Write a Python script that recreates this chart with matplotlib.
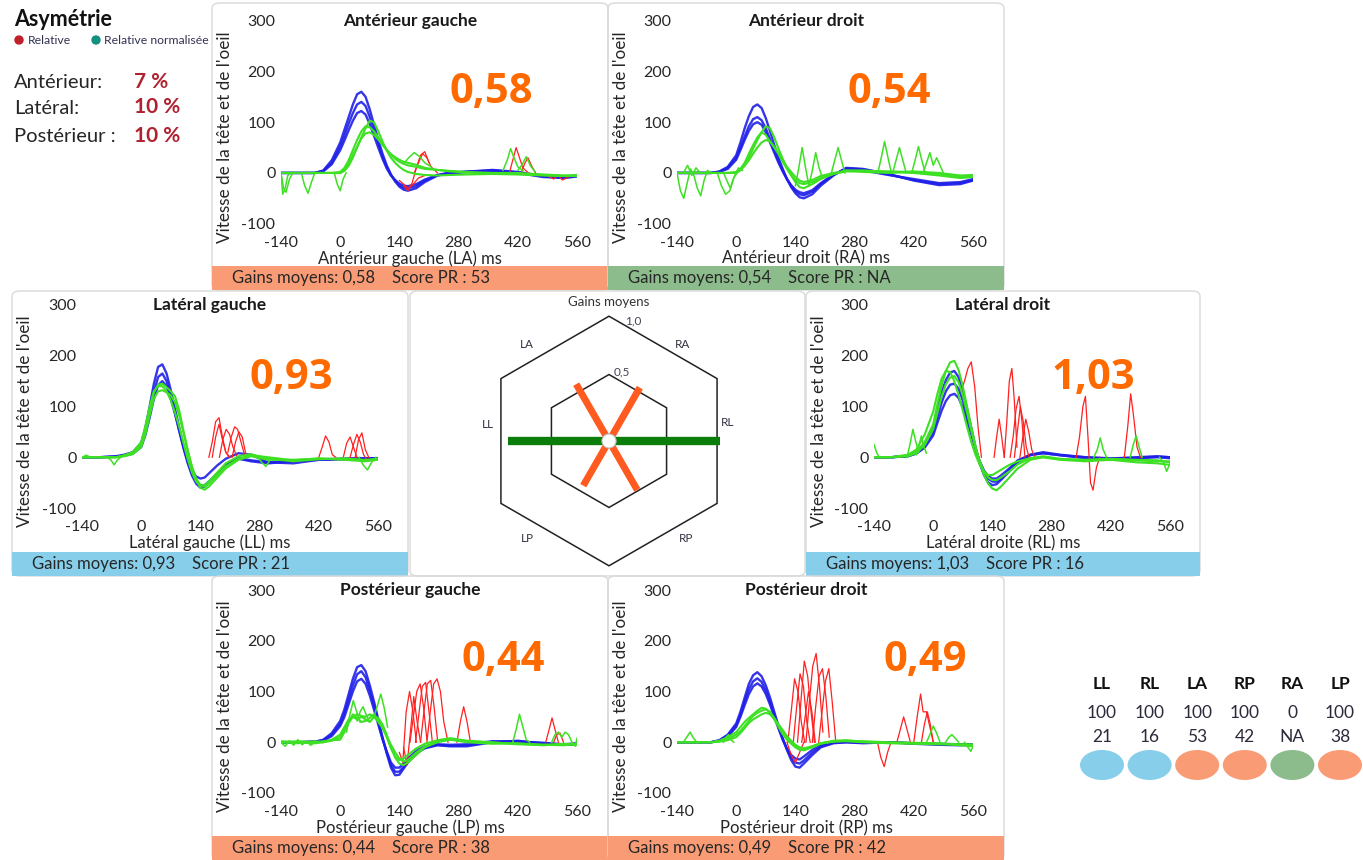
import matplotlib
matplotlib.use('Agg')
import numpy as np
import matplotlib.pyplot as plt
from matplotlib.patches import FancyBboxPatch, Rectangle, Ellipse, Polygon, Circle

# ---------------------------------------------------------------- data
# common time grid (ms) for the main head / eye traces
T_MS = [-140, -100, -60, -40, -20, 0, 10, 20, 30, 40, 50, 60, 70, 80, 90, 100,
        110, 120, 130, 140, 150, 160, 180, 200, 230, 260, 300, 360, 420, 480, 530, 560]

# Antérieur gauche (LA)
LA_BLUE = [
    [0, 0, 0, 5, 25, 60, 85, 110, 135, 155, 160, 150, 125, 95, 65, 38, 15, -3, -17, -27, -33, -35, -30, -18, -5, 0, 2, 6, 2, -6, -8, -5],
    [0, 0, 0, 4, 20, 52, 74, 97, 118, 135, 140, 132, 110, 84, 58, 33, 12, -4, -15, -24, -29, -30, -26, -15, -5, 0, 3, 5, 1, -7, -9, -6],
    [0, 0, 0, 3, 17, 45, 64, 84, 103, 118, 122, 115, 96, 73, 50, 28, 9, -5, -14, -21, -25, -26, -22, -13, -4, 1, 2, 4, 0, -8, -10, -7],
]
LA_GREEN = [
    [0, 0, 0, 0, 0, 2, 10, 25, 45, 65, 82, 92, 90, 82, 70, 58, 46, 36, 28, 22, 18, 15, 12, 8, 6, 4, 2, 0, 0, -3, -5, -5],
    [0, 0, 0, 0, 0, 0, 6, 18, 35, 52, 68, 78, 80, 75, 66, 55, 45, 37, 31, 26, 22, 20, 16, 10, 6, 3, 1, -2, -2, -4, -6, -6],
    [0, 0, 0, 0, 0, 0, 4, 14, 30, 50, 70, 88, 103, 100, 82, 62, 44, 30, 20, 12, 6, 2, -2, -4, -5, -4, -3, -2, -3, -5, -6, -4],
]
LA_GREEN_EXTRA = [
    ([-140, -136, -130, -124, -118], [0, -42, -30, -5, 0]),
    ([-140, -134, -128, -120, -112], [0, -30, -38, -12, 0]),
    ([-92, -84, -76, -68, -60], [0, -25, -40, -18, 0]),
    ([-14, -7, 0, 7, 14], [0, -22, -35, -12, 0]),
    ([150, 162, 175, 188, 200, 215], [18, 30, 40, 32, 20, 12]),
    ([385, 395, 403, 411, 420, 432], [5, 25, 48, 30, 12, 5]),
    ([420, 430, 440, 450, 460], [5, 16, 32, 14, 3]),
]
LA_RED = [
    ([150, 160, 170, 180, 190, 200, 210], [-25, -35, -20, 10, 35, 42, 20]),
    ([175, 185, 195, 205, 215, 230], [0, 20, 38, 30, 12, 0]),
    ([140, 150, 160, 170, 185, 200], [-15, -22, -30, -25, -10, -5]),
    ([400, 408, 416, 424, 432, 445], [0, 25, 50, 30, 10, 0]),
    ([428, 436, 444, 452, 462], [0, 18, 30, 15, 0]),
    ([490, 505, 515, 525, 540], [-5, -12, -3, -14, -8]),
]

# Antérieur droit (RA)
RA_BLUE = [
    [0, 0, 0, 3, 12, 35, 60, 88, 112, 130, 135, 128, 108, 82, 55, 30, 8, -12, -28, -40, -48, -50, -42, -25, -5, 10, 8, -2, -15, -24, -22, -15],
    [0, 0, 0, 2, 10, 30, 50, 72, 92, 106, 110, 104, 88, 66, 44, 24, 5, -12, -26, -36, -42, -44, -37, -22, -4, 9, 7, -3, -14, -22, -20, -14],
    [0, 0, 0, 2, 8, 26, 45, 65, 83, 96, 100, 95, 80, 60, 40, 20, 3, -12, -24, -33, -38, -40, -34, -20, -3, 8, 5, -4, -12, -20, -18, -12],
]
RA_GREEN = [
    [0, 0, 0, 0, 0, 0, 5, 15, 30, 48, 65, 80, 92, 88, 70, 48, 28, 10, -5, -18, -28, -30, -22, -12, -2, 5, 5, 2, 0, -5, -10, -8],
    [0, 0, 0, 0, 0, 2, 6, 14, 25, 38, 50, 60, 65, 62, 52, 38, 22, 8, -4, -14, -20, -22, -18, -10, -2, 3, 4, 3, 2, -2, -8, -6],
    [0, 0, 0, 0, 0, 0, 8, 20, 38, 55, 70, 80, 75, 62, 50, 38, 24, 12, 2, -8, -15, -18, -14, -6, 0, 4, 2, 0, 3, 0, -5, -4],
]
RA_GREEN_EXTRA = [
    ([-140, -132, -124, -116, -108, -100, -92, -84, -76, -68, -60], [0, -35, -50, -20, 8, -5, -30, -45, -15, 5, 0]),
    ([-125, -115, -105, -95, -85], [0, 15, -5, 10, 0]),
    ([-45, -35, -25, -15, -5, 5, 15], [0, -25, -42, -35, -8, 10, 5]),
    ([-30, -22, -14, -6, 2], [0, -15, -30, -10, 0]),
    ([140, 148, 156, 164, 172, 180, 188, 196, 204], [-25, 10, 50, 10, -25, 5, 40, 10, -10]),
    ([225, 233, 241, 249, 257], [0, 25, 50, 25, 0]),
    ([335, 343, 351, 359, 367], [0, 30, 62, 30, 0]),
    ([370, 378, 386, 394, 402], [0, 25, 50, 25, 0]),
    ([415, 423, 431, 439, 447], [0, 25, 52, 25, 0]),
    ([442, 450, 458, 466, 474, 482, 490], [0, 20, 40, 15, 30, 15, 0]),
]
RA_RED = []

# Latéral gauche (LL)
LL_BLUE = [
    [0, 0, 2, 5, 10, 28, 58, 100, 145, 178, 183, 165, 132, 95, 58, 22, -8, -32, -48, -55, -55, -48, -32, -15, -3, -8, -12, -8, -5, -4, -3, -2],
    [0, 0, 1, 4, 8, 24, 50, 88, 128, 158, 165, 150, 122, 88, 52, 18, -12, -36, -52, -60, -58, -50, -32, -14, -2, -6, -10, -7, -4, -3, -2, -2],
    [0, 0, 1, 3, 7, 20, 44, 78, 115, 142, 150, 140, 115, 85, 52, 20, -8, -26, -38, -42, -40, -32, -16, -3, 8, 5, -10, -12, -5, -3, -2, -2],
]
LL_GREEN = [
    [0, 0, 0, 3, 8, 25, 52, 92, 128, 143, 145, 138, 130, 120, 92, 52, 15, -20, -45, -60, -64, -58, -40, -22, -5, 2, -5, -5, -3, -4, -5, -4],
    [0, 0, 0, 2, 6, 20, 45, 82, 115, 130, 132, 128, 122, 108, 82, 48, 12, -18, -42, -55, -58, -52, -35, -18, -3, 4, 0, -6, -2, -5, -8, -5],
    [0, 0, 0, 4, 10, 30, 62, 100, 130, 140, 140, 130, 112, 88, 60, 28, -4, -30, -48, -55, -55, -48, -30, -12, 2, 6, -3, -8, -4, -2, -6, -3],
]
LL_GREEN_EXTRA = [
    ([-80, -72, -64, -56, -48], [0, -5, -15, -5, 0]),
    ([-140, -130, -120], [0, 4, 0]),
    ([275, 285, 295, 305], [0, -10, -18, -5]),
    ([515, 525, 535, 545, 555], [0, -15, -25, -10, 0]),
]
LL_RED = [
    ([160, 168, 176, 184, 192, 200, 210], [0, 30, 70, 78, 40, 10, 0]),
    ([168, 176, 184, 192, 200, 208], [0, 40, 65, 35, 10, 0]),
    ([185, 193, 201, 209, 217, 227], [0, 35, 55, 45, 20, 0]),
    ([205, 213, 221, 228, 236, 246], [10, 40, 60, 55, 30, 0]),
    ([215, 223, 231, 239, 249], [0, 30, 50, 40, 0]),
    ([420, 428, 436, 444, 452, 460], [0, 20, 42, 30, 5, 0]),
    ([478, 486, 494, 502, 510], [0, 28, 40, 20, 0]),
    ([494, 502, 510, 518, 526, 534], [0, 25, 45, 30, 5, -5]),
    ([506, 514, 522, 530, 538], [0, 35, 48, 15, 0]),
]

# Latéral droit (RL)
RL_BLUE = [
    [0, 0, 2, 8, 22, 50, 80, 108, 130, 143, 145, 135, 112, 82, 50, 18, -10, -30, -42, -48, -48, -42, -25, -8, 5, 10, 5, 0, -3, 0, 2, 0],
    [0, 0, 2, 7, 19, 43, 68, 92, 111, 122, 125, 117, 98, 72, 45, 16, -8, -26, -37, -42, -42, -36, -22, -6, 5, 8, 4, 0, -2, -1, 1, 0],
    [0, 0, 3, 10, 28, 60, 95, 128, 152, 167, 170, 158, 130, 95, 58, 20, -12, -35, -50, -55, -53, -45, -28, -10, 4, 8, 4, -2, -4, -2, 0, -2],
]
RL_GREEN = [
    [0, 0, 3, 10, 30, 65, 105, 142, 170, 187, 190, 172, 140, 100, 60, 22, -10, -35, -52, -62, -65, -58, -40, -22, -5, 0, -5, -8, -5, -10, -12, -15],
    [0, 0, 2, 8, 24, 55, 88, 120, 144, 157, 160, 148, 122, 88, 52, 18, -8, -28, -40, -45, -45, -40, -28, -14, -2, 2, -3, -6, -4, -6, -8, -8],
    [0, 0, 5, 15, 45, 90, 125, 155, 170, 168, 150, 122, 92, 60, 30, 5, -15, -28, -35, -35, -30, -25, -15, -8, -2, 0, -4, -5, -3, -5, -6, -10],
]
RL_GREEN_EXTRA = [
    ([-140, -134, -128, -120], [25, 10, 0, 0]),
    ([-62, -55, -48, -41, -34], [0, 25, 55, 30, 10]),
    ([-40, -34, -28, -22, -16], [5, 22, 42, 20, 8]),
    ([380, 388, 395, 402, 410], [0, 15, 38, 15, 0]),
    ([466, 473, 480, 487, 494], [0, 25, 42, 20, 0]),
    ([535, 545, 552, 560], [0, -10, -28, -12]),
]
RL_RED = [
    ([66, 74, 82, 90, 98, 106, 114], [130, 150, 175, 188, 140, 60, 0]),
    ([144, 150, 156, 162, 168], [0, 40, 75, 40, 0]),
    ([168, 174, 180, 186, 192, 198], [0, 70, 150, 175, 110, 20]),
    ([182, 189, 196, 203, 210, 217], [0, 40, 95, 120, 70, 0]),
    ([192, 199, 206, 213, 220, 227], [0, 50, 100, 70, 20, 0]),
    ([205, 212, 219, 226, 233, 240], [0, 40, 75, 50, 15, 0]),
    ([338, 346, 354, 360, 366, 372, 378, 386, 394], [0, 40, 100, 120, 40, -50, -65, -20, 0]),
    ([452, 460, 467, 474, 482, 490], [0, 60, 125, 80, 20, 0]),
]

# Postérieur gauche (LP)
LP_BLUE = [
    [0, 0, 1, 5, 18, 42, 65, 95, 125, 148, 152, 140, 112, 80, 45, 10, -22, -50, -65, -64, -52, -40, -22, -12, -6, -8, -8, 0, 3, -3, -5, -4],
    [0, 0, 1, 4, 15, 36, 57, 84, 112, 134, 140, 128, 102, 72, 40, 8, -20, -45, -58, -58, -48, -36, -20, -10, -5, -7, -6, 1, 2, -2, -5, -3],
    [0, 0, 1, 3, 12, 32, 50, 75, 100, 120, 125, 115, 92, 64, 35, 6, -18, -40, -50, -50, -42, -32, -17, -8, -4, -5, -4, 2, 1, -1, -4, -2],
]
LP_GREEN = [
    [0, -2, 2, 0, 5, 15, 30, 45, 50, 45, 50, 45, 40, 50, 48, 35, 15, -10, -30, -42, -45, -40, -25, -10, 0, 5, 0, -3, -2, -5, -6, -3],
    [2, 0, -2, 0, 3, 10, 25, 40, 55, 48, 40, 42, 48, 55, 45, 30, 10, -12, -28, -35, -32, -25, -12, -3, 4, 8, 3, 0, -4, -5, -4, -5],
    [0, 2, 0, 2, 4, 5, 20, 38, 50, 55, 52, 50, 55, 50, 40, 28, 12, -5, -20, -32, -38, -35, -20, -8, 2, 6, 2, -1, -3, -6, -3, -4],
]
LP_GREEN_EXTRA = [
    ([-140, -130, -120, -110, -100, -90, -80, -70, -60], [0, -8, 3, -6, 5, -5, 2, -6, 0]),
    ([15, 23, 31, 39, 47], [20, 55, 82, 60, 40]),
    ([40, 47, 54, 61, 68], [42, 60, 70, 55, 42]),
    ([80, 88, 96, 104, 112], [50, 72, 95, 68, 30]),
    ([408, 416, 424, 432, 440, 448], [0, 25, 55, 30, 5, 0]),
    ([500, 508, 516, 524, 532, 540, 548, 556, 560], [0, 15, 20, 10, 20, 15, 0, -8, 8]),
]
LP_RED = [
    ([140, 148, 156, 164, 172, 180], [-20, -40, 60, 100, 60, 0]),
    ([150, 158, 166, 174, 182, 190], [-10, -45, 20, 90, 40, 0]),
    ([165, 173, 181, 189, 197, 205], [0, 50, 100, 115, 70, 5]),
    ([178, 186, 194, 202, 210, 218], [0, 55, 110, 118, 60, 0]),
    ([190, 198, 206, 214, 222, 230], [0, 60, 115, 122, 70, 5]),
    ([205, 213, 221, 229, 237, 245, 255], [0, 60, 115, 125, 100, 40, 0]),
    ([276, 284, 292, 300, 308], [0, 40, 70, 40, 0]),
    ([486, 494, 501, 508, 516], [0, 25, 48, 25, 0]),
    ([505, 512, 520, 528], [0, 15, 18, 0]),
]

# Postérieur droit (RP)
RP_BLUE = [
    [0, 0, 0, 4, 15, 37, 60, 88, 115, 132, 138, 130, 112, 88, 60, 32, 8, -15, -35, -48, -50, -42, -25, -10, -2, 0, -2, 0, -3, -5, -6, -5],
    [0, 0, 0, 3, 13, 33, 54, 80, 104, 120, 126, 119, 102, 80, 55, 30, 6, -14, -30, -40, -42, -36, -20, -8, -1, 0, -1, 0, -2, -4, -5, -4],
    [0, 0, 0, 3, 11, 30, 50, 73, 95, 110, 116, 110, 95, 74, 50, 27, 5, -12, -25, -32, -34, -28, -15, -6, 0, 1, 0, 0, -2, -3, -4, -4],
]
RP_GREEN = [
    [0, 0, 0, 2, 6, 15, 22, 32, 42, 52, 58, 62, 65, 60, 48, 35, 22, 10, 0, -8, -14, -16, -10, -3, 2, 2, 0, -2, -3, -4, -5, -6],
    [0, 0, 0, 1, 4, 10, 18, 28, 38, 45, 50, 55, 58, 55, 46, 35, 24, 12, 3, -5, -10, -12, -8, -2, 3, 4, 1, -1, -2, -3, -4, -4],
    [0, 0, 0, 3, 10, 20, 30, 40, 48, 55, 62, 68, 66, 58, 45, 30, 16, 5, -3, -10, -15, -14, -8, -2, 1, 3, 2, 0, -1, -2, -6, -8],
]
RP_GREEN_EXTRA = [
    ([-125, -117, -109, -101, -93], [0, 10, 20, 8, 0]),
    ([-30, -24, -18, -12, -6], [0, 10, 15, 5, 0]),
    ([450, 458, 466, 474, 482], [0, 15, 32, 18, 0]),
    ([495, 503, 510, 518, 526], [0, 10, 15, 8, 0]),
    ([540, 548, 555, 560], [0, -10, -18, -8]),
]
RP_RED = [
    ([122, 130, 138, 146, 154, 162], [0, 60, 125, 100, 40, 0]),
    ([135, 143, 151, 159, 167, 175], [0, 70, 135, 110, 40, 0]),
    ([145, 153, 161, 169, 177, 185], [0, 80, 160, 130, 60, 0]),
    ([155, 163, 171, 179, 187], [0, 50, 100, 60, 0]),
    ([165, 173, 181, 189, 197, 205], [0, 80, 150, 175, 110, 20]),
    ([180, 188, 196, 204, 212, 220], [0, 70, 130, 145, 90, 10]),
    ([195, 203, 211, 219, 227, 235], [0, 60, 120, 145, 80, 5]),
    ([120, 130, 140, 150, 160], [0, -25, -40, -20, 0]),
    ([334, 342, 350, 358, 366], [0, -30, -48, -20, 0]),
    ([380, 388, 396, 404, 412], [0, 25, 50, 25, 0]),
    ([420, 428, 436, 442, 450, 458, 466], [0, 50, 95, 60, 60, 30, 0]),
    ([438, 445, 452, 459, 466], [0, 35, 60, 35, 0]),
]

PANEL_TITLES = ['Antérieur gauche', 'Antérieur droit', 'Latéral gauche',
                'Latéral droit', 'Postérieur gauche', 'Postérieur droit']
PANEL_XLABELS = ['Antérieur gauche (LA) ms', 'Antérieur droit (RA) ms',
                 'Latéral gauche (LL) ms', 'Latéral droite (RL) ms',
                 'Postérieur gauche (LP) ms', 'Postérieur droit (RP) ms']
PANEL_GAINS = [0.58, 0.54, 0.93, 1.03, 0.44, 0.49]
PANEL_SCORES = ['53', 'NA', '21', '16', '38', '42']
PANEL_STATUS = ['orange', 'green', 'blue', 'blue', 'orange', 'orange']

RADAR_CANALS = ['RL', 'RA', 'LA', 'LL', 'LP', 'RP']
RADAR_GAINS = [1.03, 0.54, 0.58, 0.93, 0.44, 0.49]
RADAR_LEVELS = [0.5, 1.0]

TABLE_CANALS = ['LL', 'RL', 'LA', 'RP', 'RA', 'LP']
TABLE_PCT = ['100', '100', '100', '100', '0', '100']
TABLE_SCORES = ['21', '16', '53', '42', 'NA', '38']
TABLE_STATUS = ['blue', 'blue', 'orange', 'orange', 'green', 'orange']

ASYM_LABELS = ['Antérieur:', 'Latéral:', 'Postérieur :']
ASYM_VALUES = [7, 10, 10]

# ---------------------------------------------------------------- style
STATUS_COLORS = {'orange': '#f99c76', 'green': '#8dbc8c', 'blue': '#87ceea'}
BLUE, GREEN, RED = '#1f1fe8', '#3ee024', '#ff2020'
BIG_ORANGE = '#ff6a00'
TXT = '#262626'

plt.rcParams['font.family'] = ['Lato', 'DejaVu Sans']
plt.rcParams['axes.unicode_minus'] = False

W, H = 1363, 860


def fx(x):
    return x / W


def fy(y):
    return 1 - y / H


def fmt(g):
    return f'{g:.2f}'.replace('.', ',')


fig = plt.figure(figsize=(W / 100, H / 100), dpi=100)
fig.patch.set_facecolor('white')

# layout of each trace panel (pixels): box, axes top-left, big number centre
PANEL_BOX = [(212, 3, 608, 290), (608, 3, 1004, 290), (12, 291, 408, 576),
             (806, 291, 1200, 576), (212, 576, 608, 860), (608, 576, 1004, 860)]
AX_ORIGIN = [(281, 20.7), (677, 20.7), (82, 305), (874, 305), (281, 590), (677, 590)]
BIG_POS = [(491, 92), (889, 92), (291, 378), (1093, 378), (503, 661), (925, 661)]
AX_W, AX_H = 296, 203

traces = [(LA_BLUE, LA_GREEN, LA_GREEN_EXTRA, LA_RED),
          (RA_BLUE, RA_GREEN, RA_GREEN_EXTRA, RA_RED),
          (LL_BLUE, LL_GREEN, LL_GREEN_EXTRA, LL_RED),
          (RL_BLUE, RL_GREEN, RL_GREEN_EXTRA, RL_RED),
          (LP_BLUE, LP_GREEN, LP_GREEN_EXTRA, LP_RED),
          (RP_BLUE, RP_GREEN, RP_GREEN_EXTRA, RP_RED)]

for i, (blue, green, gextra, red) in enumerate(traces):
    l, t, r, b = PANEL_BOX[i]
    fig.add_artist(FancyBboxPatch((fx(l), fy(b)), (r - l) / W, (b - t) / H,
                                  boxstyle='round,pad=0,rounding_size=0.006',
                                  transform=fig.transFigure, fc='none',
                                  ec='#d9d9d9', lw=1.0))
    fig.add_artist(Rectangle((fx(l), fy(b)), (r - l) / W, 24 / H,
                             transform=fig.transFigure,
                             color=STATUS_COLORS[PANEL_STATUS[i]], lw=0))
    fig.text(fx(l + 20), fy(b - 12), f'Gains moyens: {fmt(PANEL_GAINS[i])}    '
             f'Score PR : {PANEL_SCORES[i]}', fontsize=12, color=TXT, va='center')

    axl, axt = AX_ORIGIN[i]
    ax = fig.add_axes([fx(axl), fy(axt + AX_H), AX_W / W, AX_H / H])
    ax.patch.set_alpha(0)
    for curve in blue:
        ax.plot(T_MS, curve, color=BLUE, lw=1.7, alpha=0.9)
    for tt, vv in red:
        ax.plot(tt, vv, color=RED, lw=0.9)
    for curve in green:
        ax.plot(T_MS, curve, color=GREEN, lw=1.5)
    for tt, vv in gextra:
        ax.plot(tt, vv, color=GREEN, lw=1.1)
    ax.set_xlim(-140, 560)
    ax.set_ylim(-100, 300)
    ax.set_xticks([-140, 0, 140, 280, 420, 560])
    ax.set_yticks([-100, 0, 100, 200, 300])
    ax.tick_params(length=0, labelsize=11.5, colors=TXT)
    ax.tick_params(axis='x', pad=8.5)
    ax.tick_params(axis='y', pad=4)
    for s in ax.spines.values():
        s.set_visible(False)

    cx = (l + r) / 2
    fig.text(fx(cx), fy(axt), PANEL_TITLES[i], fontsize=12.5, weight='bold',
             color='#1a1a1a', ha='center', va='center')
    fig.text(fx(cx), fy(axt + 238), PANEL_XLABELS[i], fontsize=12, color=TXT,
             ha='center', va='center')
    fig.text(fx(l + 13), fy(axt + 116), "Vitesse de la tête et de l'oeil",
             fontsize=12.3, color=TXT, rotation=90, ha='center', va='center')
    bx, by = BIG_POS[i]
    fig.text(fx(bx), fy(by), fmt(PANEL_GAINS[i]), fontsize=30, weight='bold',
             family='Open Sans', color=BIG_ORANGE, ha='center', va='center')

# ---------------------------------------------------------------- radar
cl, ct, cr, cb = 410, 291, 805, 576
fig.add_artist(FancyBboxPatch((fx(cl), fy(cb)), (cr - cl) / W, (cb - ct) / H,
                              boxstyle='round,pad=0,rounding_size=0.006',
                              transform=fig.transFigure, fc='none',
                              ec='#d9d9d9', lw=1.0))
R0 = 0.07           # inner hole of the radar, in gain units
PX = 101.0          # pixels per gain unit
rcx, rcy = 609, 441
rax = fig.add_axes([fx(cl), fy(cb), (cr - cl) / W, (cb - ct) / H])
rax.set_xlim((cl - rcx) / PX, (cr - rcx) / PX)
rax.set_ylim((rcy - cb) / PX, (rcy - ct) / PX)
rax.axis('off')
vert_ang = np.deg2rad(np.arange(90, 450, 60))
for lev in RADAR_LEVELS:
    rv = (R0 + lev) / np.cos(np.deg2rad(30))
    rax.add_patch(Polygon(np.c_[rv * np.cos(vert_ang), rv * np.sin(vert_ang)],
                          closed=True, fill=False, ec='#222222', lw=1.1))
for k, (canal, g) in enumerate(zip(RADAR_CANALS, RADAR_GAINS)):
    a = np.deg2rad(60 * k)
    lateral = canal in ('LL', 'RL')
    rax.plot([0, (R0 + g) * np.cos(a)], [0, (R0 + g) * np.sin(a)],
             color='#0a7d0a' if lateral else '#ff5a1f',
             lw=6.0 if lateral else 5.0, solid_capstyle='butt')
rax.add_patch(Circle((0, 0), R0, fc='white', ec='#bbbbbb', lw=0.8, zorder=5))

fig.text(fx(609), fy(302), 'Gains moyens', fontsize=9.5, color='#333333',
         ha='center', va='center')
fig.text(fx(633), fy(321), '1,0', fontsize=8.5, color='#444455', ha='center', va='center')
fig.text(fx(622), fy(372), '0,5', fontsize=8.5, color='#444455', ha='center', va='center')
for name, (px, py) in zip(['LA', 'RA', 'LL', 'RL', 'LP', 'RP'],
                          [(527, 344), (683, 344), (488, 424), (728, 423),
                           (527, 538), (686, 538)]):
    fig.text(fx(px), fy(py), name, fontsize=8.5, color='#333344',
             ha='center', va='center')

# ---------------------------------------------------------------- asymmetry
fig.text(fx(14), fy(20), 'Asymétrie', fontsize=15.5, weight='bold',
         color='#111111', va='center')
fig.add_artist(Ellipse((fx(19), fy(40)), 8 / W, 8 / H, color='#c0202a',
                       transform=fig.transFigure))
fig.text(fx(28), fy(40), 'Relative', fontsize=8.8, color='#333355', va='center')
fig.add_artist(Ellipse((fx(96), fy(40)), 8 / W, 8 / H, color='#138f80',
                       transform=fig.transFigure))
fig.text(fx(104), fy(40), 'Relative normalisée', fontsize=8.8, color='#333355',
         va='center')
for k, (lab, val) in enumerate(zip(ASYM_LABELS, ASYM_VALUES)):
    y = [83, 108, 137][k]
    fig.text(fx(14), fy(y), lab, fontsize=14.5, color=TXT, va='center')
    fig.text(fx(134), fy(y - 1), f'{val} %', fontsize=15, weight='bold',
             color='#b02230', va='center')

# ---------------------------------------------------------------- status table
col0, colw = 1102, 47.6
tax = fig.add_axes([fx(col0 - colw / 2), fy(790), (W - col0 + colw / 2) / W, 125 / H])
tax.set_xlim(-0.5, (W - col0) / colw)
tax.set_ylim(125, 0)
tax.axis('off')
for k, canal in enumerate(TABLE_CANALS):
    tax.text(k, 19, canal, fontsize=12.5, weight='bold', color='#111111',
             ha='center', va='center')
    tax.text(k, 48, TABLE_PCT[k], fontsize=12.5, color='#2a2a3a', ha='center', va='center')
    tax.text(k, 72, TABLE_SCORES[k], fontsize=12.5, color='#2a2a3a', ha='center', va='center')
    tax.add_patch(Ellipse((k, 100), 44 / colw, 30, color=STATUS_COLORS[TABLE_STATUS[k]],
                          lw=0, clip_on=False))

fig.savefig('out.png', dpi=100)
